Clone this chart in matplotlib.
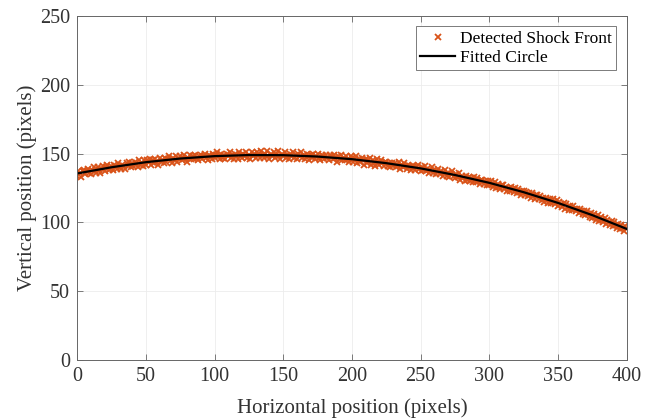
import numpy as np
import matplotlib.pyplot as plt

plt.rcParams['font.family'] = ['Liberation Serif', 'DejaVu Serif']

# detected shock front: one vertical position per pixel column
shock_x = np.arange(400)
shock_y = [
    134, 137, 136, 133, 137, 138, 135, 137, 139, 136,
    135, 138, 140, 137, 136, 140, 138, 136, 139, 141,
    137, 140, 142, 138, 139, 141, 138, 142, 140, 139,
    143, 140, 139, 142, 141, 139, 143, 141, 144, 140,
    143, 141, 144, 142, 140, 145, 142, 143, 141, 145,
    142, 145, 144, 146, 142, 145, 143, 146, 144, 142,
    147, 144, 145, 143, 147, 144, 146, 148, 145, 143,
    147, 145, 148, 144, 146, 148, 145, 147, 149, 146,
    144, 147, 149, 146, 148, 146, 149, 147, 145, 148,
    149, 146, 148, 150, 147, 145, 149, 148, 146, 150,
    147, 149, 151, 148, 146, 150, 147, 149, 146, 150,
    148, 151, 147, 149, 146, 150, 148, 146, 151, 149,
    147, 150, 148, 151, 147, 149, 146, 151, 148, 150,
    147, 151, 149, 147, 152, 149, 147, 150, 152, 148,
    146, 150, 148, 151, 147, 149, 152, 148, 146, 150,
    148, 151, 147, 149, 146, 150, 148, 151, 147, 149,
    146, 150, 148, 151, 147, 149, 146, 150, 148, 145,
    149, 147, 150, 146, 148, 150, 147, 145, 149, 148,
    146, 149, 147, 145, 149, 148, 146, 149, 147, 144,
    148, 146, 149, 145, 147, 145, 148, 146, 144, 148,
    147, 144, 146, 148, 143, 146, 144, 147, 145, 142,
    146, 143, 145, 147, 142, 145, 143, 141, 146, 144,
    142, 145, 143, 141, 144, 144, 141, 143, 140, 143,
    141, 143, 140, 142, 144, 139, 142, 140, 143, 141,
    139, 142, 140, 138, 141, 141, 138, 140, 142, 139,
    137, 140, 138, 141, 137, 139, 136, 138, 140, 136,
    138, 135, 137, 139, 135, 137, 134, 136, 138, 134,
    136, 133, 135, 137, 134, 132, 135, 133, 136, 131,
    134, 132, 130, 134, 131, 133, 130, 132, 129, 133,
    129, 132, 130, 128, 131, 131, 128, 130, 127, 130,
    127, 130, 128, 126, 129, 125, 128, 126, 124, 127,
    127, 124, 126, 123, 125, 123, 126, 124, 122, 125,
    121, 124, 122, 120, 123, 123, 120, 122, 119, 121,
    118, 121, 120, 117, 120, 120, 117, 119, 116, 118,
    115, 118, 116, 114, 117, 114, 117, 115, 113, 116,
    112, 115, 113, 111, 114, 110, 113, 111, 109, 112,
    109, 112, 110, 108, 110, 107, 110, 108, 106, 108,
    105, 108, 106, 104, 107, 103, 106, 104, 102, 105,
    101, 104, 102, 100, 103, 99, 102, 100, 98, 101,
    97, 100, 98, 96, 99, 95, 98, 96, 94, 97,
]

# fitted circle, sampled every 25 px
fit_x = [0, 25, 50, 75, 100, 125, 150, 175, 200, 225, 250, 275, 300, 325, 350, 375, 400]
fit_y = [135.5, 140.0, 143.7, 146.35, 148.1, 148.9, 148.8, 147.8, 145.9, 143.0,
         139.2, 134.4, 128.7, 121.9, 114.1, 105.2, 95.2]

fig = plt.figure(figsize=(6.59, 4.19), dpi=100)
ax = fig.add_axes([0.117, 0.141, 0.834, 0.821])

ax.plot(shock_x, shock_y, 'x', color='#D95319', markersize=4.5, markeredgewidth=1.3,
        label='Detected Shock Front')
ax.plot(fit_x, fit_y, '-', color='black', linewidth=1.6, label='Fitted Circle')

ax.set_xlim(0, 400)
ax.set_ylim(0, 250)
ax.set_xticks(range(0, 401, 50))
ax.set_yticks(range(0, 251, 50))
ax.grid(True, color='#ececec', linewidth=0.6)
ax.set_axisbelow(True)

for s in ax.spines.values():
    s.set_color('#666666')
    s.set_linewidth(0.7)
ax.tick_params(direction='in', top=True, right=True, length=4, width=0.6,
               color='#666666', labelcolor='#333333', labelsize=14.5, pad=5)

ax.set_xlabel('Horizontal position (pixels)', fontsize=15, color='#333333', labelpad=9)
ax.set_ylabel('Vertical position (pixels)', fontsize=15, color='#333333', labelpad=2)

leg = ax.legend(loc='upper right', fontsize=12.5, fancybox=False, framealpha=1,
                edgecolor='#666666', handlelength=2.0, handletextpad=0.3,
                borderpad=0.25, labelspacing=0.15, borderaxespad=0.6)
leg.get_frame().set_linewidth(0.6)
leg.legend_handles[0].set_markersize(4)

fig.savefig('out.png', dpi=100)
